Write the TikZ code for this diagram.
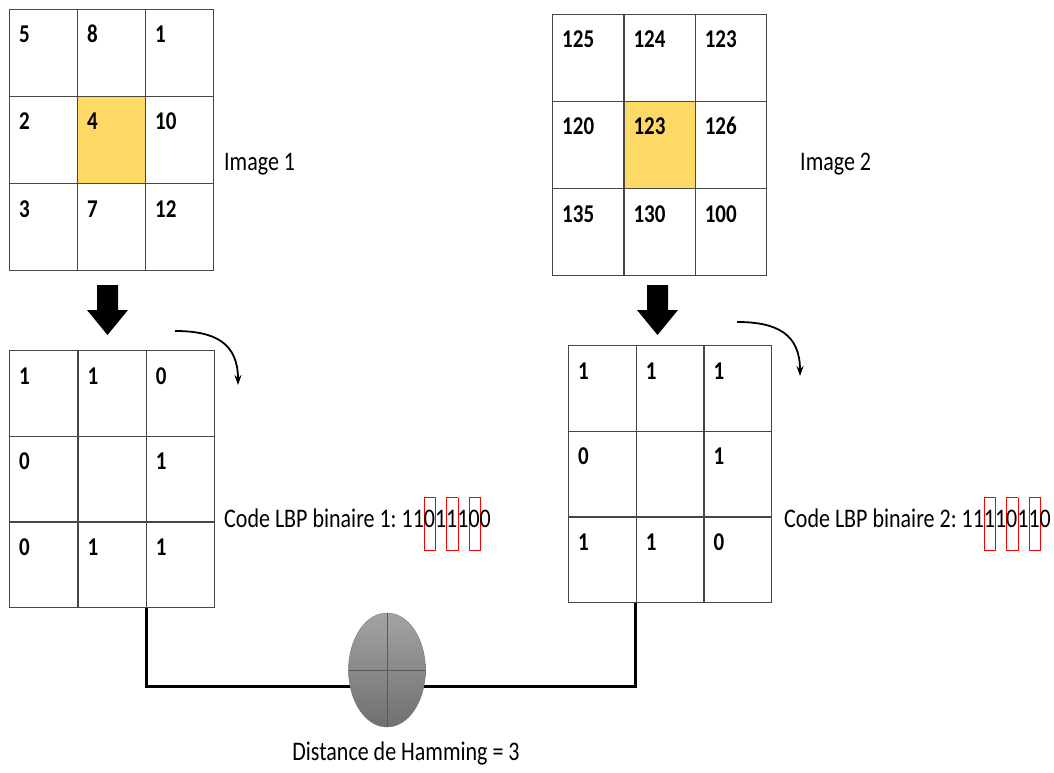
\documentclass[tikz,border=0pt]{standalone}
\usepackage{fontspec}
\setmainfont{Carlito}
\usetikzlibrary{arrows.meta,shapes.geometric}
\usepackage{xcolor}
\definecolor{lbpjaune}{HTML}{FFD966}
\definecolor{lbpgris}{HTML}{474747}
\newcommand{\gros}{\fontsize{22}{26}\selectfont\frenchspacing}
\newcommand{\haut}[1]{\scalebox{1}[1.22]{#1}}
\newcommand{\marque}[1]{\rlap{\textcolor{red}{\fboxsep=0pt\fboxrule=0.85pt\raisebox{-19pt}{\fbox{\rule{10.5pt}{0pt}\rule{0pt}{42.5pt}}}}}#1}
% grille 3x3 : [fond du centre]{nom}{x}{y}{largeur}{hauteur}{valeurs}
\newcommand{\grille}[7][white]{%
  \foreach \v [count=\k from 0] in {#7} {
    \pgfmathtruncatemacro{\c}{mod(\k,3)}
    \pgfmathtruncatemacro{\r}{div(\k,3)}
    \ifnum\k=4 \def\fond{#1}\else\def\fond{white}\fi
    \node[case,minimum width=#5,minimum height=#6,fill=\fond] (#2-\k) at ({#3+\c*#5},{#4+\r*#6}) {};
    \node[num] (#2-\k-v) at ([xshift=10pt,yshift=-34pt]#2-\k.north west) {\haut{\v}};
  }}

\begin{document}
\begin{tikzpicture}[x=1pt,y=-1pt,
    case/.style={draw=lbpgris,line width=1.2pt,inner sep=0pt,anchor=north west},
    num/.style={anchor=base west,inner sep=0pt,font=\fontsize{21}{21}\selectfont\bfseries},
    lab/.style={inner sep=0pt,font=\gros},
    tour/.style={-{Stealth[length=10pt,width=7pt]},line width=1.8pt},
    lien/.style={line width=3pt},
    disq/.style={ellipse,minimum width=77,minimum height=114,inner sep=0pt,
      draw=black!55,top color=black!36,bottom color=black!56},
    descente/.pic={\fill (-10.5,0) -- (10.5,0) -- (10.5,25) -- (20.5,25) -- (0,50)
      -- (-20.5,25) -- (-10.5,25) -- cycle;}]
  \useasboundingbox (0,0) rectangle (1054,773);
  % images et codes LBP
  \grille[lbpjaune]{im1}{9}{9}{68}{87}{5,8,1,2,4,10,3,7,12}
  \grille[lbpjaune]{im2}{552}{14}{71.3}{87}{125,124,123,120,123,126,135,130,100}
  \grille{lbp1}{9}{350}{68.3}{85.7}{1,1,0,0,{},1,0,1,1}
  \grille{lbp2}{568}{345}{67.7}{85.7}{1,1,1,0,{},1,1,1,0}
  \node[lab,anchor=base west] (nom1) at (224,170) {\haut{Image 1}};
  \node[lab,anchor=base west] (nom2) at (800,170) {\haut{Image 2}};
  \node[lab,anchor=base west] (code1) at (224,527) {\haut{Code LBP binaire 1: 11\marque{0}1\marque{1}1\marque{0}0}};
  \node[lab,anchor=base west] (code2) at (784,527) {\haut{Code LBP binaire 2: 11\marque{1}1\marque{0}1\marque{1}0}};
  % fleches
  \pic at (107.5,285) {descente};
  \pic at (657.5,285) {descente};
  \coordinate (d1) at (175,331); \coordinate (f1) at (238,385);
  \coordinate (d2) at (737,322); \coordinate (f2) at (800,376);
  \draw[tour] (d1) .. controls (215,331) and (238,343) .. (f1);
  \draw[tour] (d2) .. controls (777,322) and (800,334) .. (f2);
  % distance de Hamming
  \coordinate (coude) at (387,686);
  \draw[lien] (lbp1-7.south east) |- (coude) -| (lbp2-7.south west);
  \node[disq] (ham) at (387,670) {};
  \draw[black!65,line width=1pt] (ham.north) -- (ham.south) (ham.west) -- (ham.east);
  \node[lab,anchor=base] (dist) at (406,760) {\haut{Distance de Hamming = 3}};
\end{tikzpicture}
\end{document}
